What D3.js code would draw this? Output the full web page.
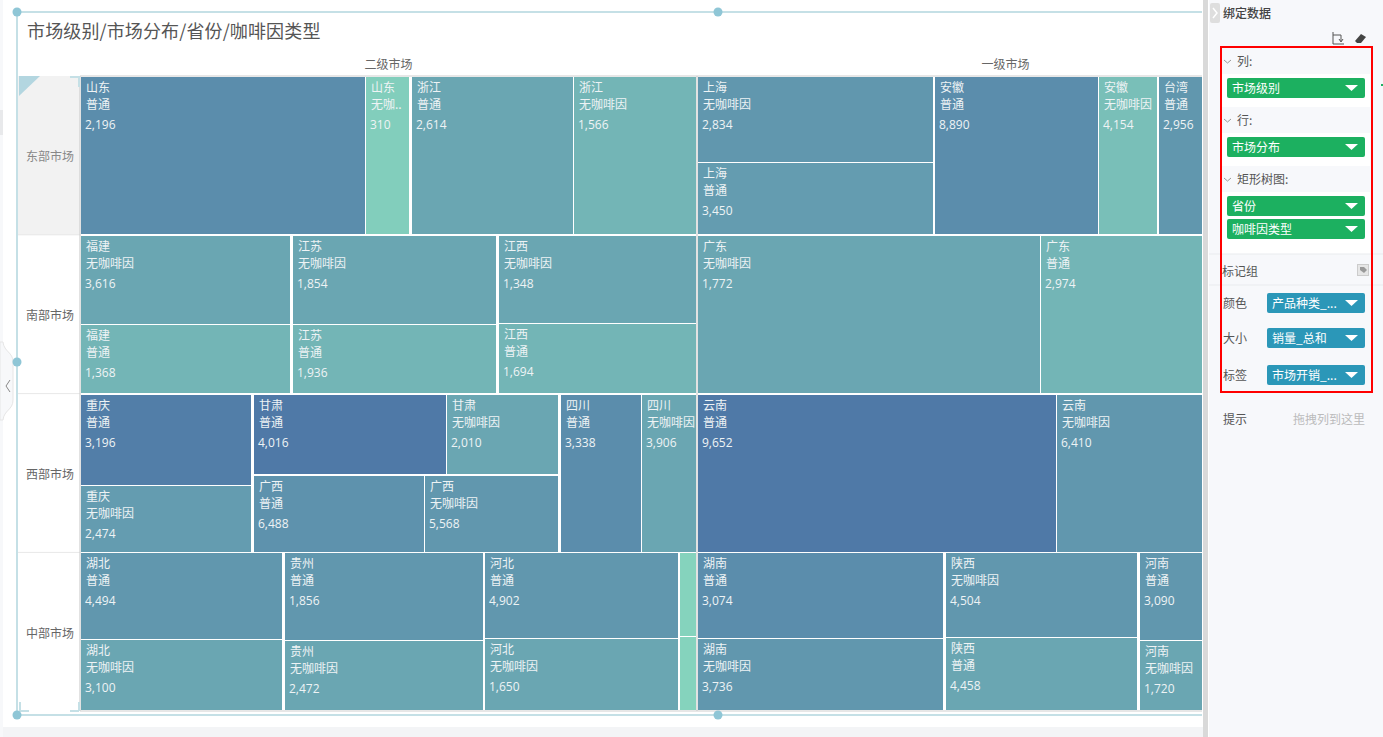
<!DOCTYPE html>
<html>
<head>
<meta charset="utf-8">
<title>矩形树图</title>
<script src="https://cdn.jsdelivr.net/npm/d3@7/dist/d3.min.js"></script>
<style>
  html, body { margin: 0; padding: 0; background: #fff; overflow: hidden; }
  svg { display: block; font-family: "Noto Sans CJK SC", "Noto Sans", sans-serif; }
</style>
</head>
<body>
<svg id="chart" width="1383" height="737"></svg>
<script>
// chart data, one position per cell in all the cell* arrays
const columnNames = ["二级市场", "一级市场"];
const rowNames = ["东部市场", "南部市场", "西部市场", "中部市场"];
const NORMAL = "普通";
const DECAF = "无咖啡因";

const cellColumn = [
  0, 0, 0, 0,
  0, 0, 0, 0, 0, 0,
  0, 0, 0, 0, 0, 0, 0, 0,
  0, 0, 0, 0, 0, 0, 0, 0,
  1, 1, 1, 1, 1,
  1, 1,
  1, 1,
  1, 1, 1, 1, 1, 1,
];
const cellRow = [
  "东部市场", "东部市场", "东部市场", "东部市场",
  "南部市场", "南部市场", "南部市场", "南部市场", "南部市场", "南部市场",
  "西部市场", "西部市场", "西部市场", "西部市场", "西部市场", "西部市场", "西部市场", "西部市场",
  "中部市场", "中部市场", "中部市场", "中部市场", "中部市场", "中部市场", "中部市场", "中部市场",
  "东部市场", "东部市场", "东部市场", "东部市场", "东部市场",
  "南部市场", "南部市场",
  "西部市场", "西部市场",
  "中部市场", "中部市场", "中部市场", "中部市场", "中部市场", "中部市场",
];
const cellProvince = [
  "山东", "山东", "浙江", "浙江",
  "福建", "福建", "江苏", "江苏", "江西", "江西",
  "重庆", "重庆", "甘肃", "甘肃", "广西", "广西", "四川", "四川",
  "湖北", "湖北", "贵州", "贵州", "河北", "河北", "", "",
  "上海", "上海", "安徽", "安徽", "台湾",
  "广东", "广东",
  "云南", "云南",
  "湖南", "湖南", "陕西", "陕西", "河南", "河南",
];
const cellType = [
  NORMAL, DECAF, NORMAL, DECAF,
  DECAF, NORMAL, DECAF, NORMAL, DECAF, NORMAL,
  NORMAL, DECAF, NORMAL, DECAF, NORMAL, DECAF, NORMAL, DECAF,
  NORMAL, DECAF, NORMAL, DECAF, NORMAL, DECAF, NORMAL, DECAF,
  DECAF, NORMAL, NORMAL, DECAF, NORMAL,
  DECAF, NORMAL,
  NORMAL, DECAF,
  NORMAL, DECAF, DECAF, NORMAL, NORMAL, DECAF,
];
// 市场开销: the number printed in each cell
const cellLabel = [
  2196, 310, 2614, 1566,
  3616, 1368, 1854, 1936, 1348, 1694,
  3196, 2474, 4016, 2010, 6488, 5568, 3338, 3906,
  4494, 3100, 1856, 2472, 4902, 1650, null, null,
  2834, 3450, 8890, 4154, 2956,
  1772, 2974,
  9652, 6410,
  3074, 3736, 4504, 4458, 3090, 1720,
];
// 销量: not printed, estimated from the area of each cell
const cellSales = [
  444, 69, 253, 192,
  185, 141, 180, 137, 172, 136,
  152, 110, 150, 87, 128, 100, 125, 84,
  172, 140, 171, 136, 163, 136, 15, 13,
  200, 167, 256, 91, 242,
  534, 424,
  558, 399,
  208, 174, 161, 138, 151, 120,
];
// 产品种类: drives the colour, estimated from the fill
const cellKinds = [
  15, 2, 10, 7,
  10, 7, 10, 7, 10, 7,
  18, 12, 19, 10, 14, 13, 15, 10,
  13, 10, 13, 10, 13, 10, 1, 1,
  13, 12, 15, 5, 13,
  10, 7,
  19, 13,
  15, 13, 13, 10, 13, 10,
];

// layout choices of the treemap
const stackedProvinces = new Set(["福建", "江苏", "江西", "重庆", "上海", "湖北", "贵州", "河北", "", "湖南", "陕西", "河南"]);
const pairedProvinces = new Map([["甘肃", "甘肃+广西"], ["广西", "甘肃+广西"]]);

const svg = d3.select("#chart");
const plotRight = 1202; // the first tier runs on past the visible area

const x = d3.scaleBand().domain(d3.range(columnNames.length)).range([81, 1313]).paddingInner(0.0032);
const y = d3.scaleBand().domain(rowNames).range([77, 710]).paddingInner(0.014);
const color = d3.scaleLinear().domain([1, 19]).range(["#85d3bd", "#4f79a7"]).interpolate(d3.interpolateRgb);

// page background and left gutter
svg.append("rect").attr("x", 0).attr("y", 727).attr("width", 1203).attr("height", 10).attr("fill", "#f3f4f6");
svg.append("rect").attr("x", 0).attr("y", 0).attr("width", 3).attr("height", 737).attr("fill", "#f7f8fa");
svg.append("rect").attr("x", 0).attr("y", 110).attr("width", 3).attr("height", 25).attr("fill", "#e8e9eb");
svg.append("path")
  .attr("d", "M3,342 C4,352 13,352 13,362 L13,400 C13,410 4,410 3,420 L0,420 L0,342 Z")
  .attr("fill", "#f7f8fa").attr("stroke", "#e6e6e6");
svg.append("path").attr("d", "M10,380 L6,386 L10,392").attr("fill", "none").attr("stroke", "#888").attr("stroke-width", 1);

// title
svg.append("text").attr("x", 27).attr("y", 38).attr("font-size", 18).attr("letter-spacing", 0.13).attr("fill", "#555").text("市场级别/市场分布/省份/咖啡因类型");

// column headers
svg.selectAll(".col-header")
  .data(columnNames)
  .join("text")
  .attr("class", "col-header")
  .attr("x", (d, i) => x(i) + x.bandwidth() / 2)
  .attr("y", 69)
  .attr("text-anchor", "middle")
  .attr("font-size", 12)
  .attr("fill", "#666")
  .text((d) => d);

// row headers
svg.append("rect").attr("x", 18).attr("y", 76).attr("width", 62).attr("height", 159).attr("fill", "#f2f2f2");
svg.selectAll(".row-header")
  .data(rowNames)
  .join("text")
  .attr("class", "row-header")
  .attr("x", 50)
  .attr("y", (d) => y(d) + y.bandwidth() / 2 + 6)
  .attr("text-anchor", "middle")
  .attr("font-size", 12)
  .attr("fill", (d, i) => (i === 0 ? "#888" : "#666"))
  .text((d) => d);
svg.selectAll(".row-rule")
  .data(rowNames.slice(1))
  .join("line")
  .attr("class", "row-rule")
  .attr("x1", 18)
  .attr("x2", 80)
  .attr("y1", (d) => y(d) - 1)
  .attr("y2", (d) => y(d) - 1)
  .attr("stroke", "#e8e8e8");

// clipped plot
svg.append("clipPath").attr("id", "plot-clip").append("rect").attr("x", 80).attr("y", 70).attr("width", plotRight - 80).attr("height", 650);
const plot = svg.append("g").attr("clip-path", "url(#plot-clip)");

function tile(node, x0, y0, x1, y1) {
  const dice = node.depth === 0 || (node.depth === 2 && !stackedProvinces.has(node.data[0]));
  (dice ? d3.treemapDice : d3.treemapSlice)(node, x0, y0, x1, y1);
}

function cellChildren(d) {
  if (typeof d === "number") return null;
  const v = d instanceof Map ? d : d[1];
  return [...v];
}

function innerGap(node) {
  return node.depth === 2 ? 1 : 2.5;
}

const cellIds = d3.range(cellSales.length);

columnNames.forEach((columnName, c) => {
  rowNames.forEach((rowName) => {
    const ids = cellIds.filter((i) => cellColumn[i] === c && cellRow[i] === rowName);
    const grouped = d3.group(
      ids,
      (i) => pairedProvinces.get(cellProvince[i]) || cellProvince[i],
      (i) => cellProvince[i]
    );
    const root = d3.hierarchy(grouped, cellChildren).sum((d) => (typeof d === "number" ? cellSales[d] : 0));
    d3.treemap().tile(tile).size([x.bandwidth(), y.bandwidth()]).paddingInner(innerGap).round(true)(root);

    const panel = plot.append("g").attr("transform", `translate(${Math.round(x(c))},${Math.round(y(rowName))})`);
    const cell = panel.selectAll("g").data(root.leaves()).join("g").attr("transform", (d) => `translate(${d.x0},${d.y0})`);

    cell.append("rect")
      .attr("width", (d) => d.x1 - d.x0)
      .attr("height", (d) => d.y1 - d.y0)
      .attr("fill", (d) => color(cellKinds[d.data]));

    // labels are dropped in slivers and shortened when they do not fit
    const labelled = cell.filter((d) => d.x1 - d.x0 >= 30 && cellLabel[d.data] !== null);
    const fit = (text, w) => {
      const max = Math.floor((w - 6) / 12);
      return text.length > max ? text.slice(0, max - 1) + ".." : text;
    };
    labelled.append("text")
      .attr("x", 5).attr("y", 15).attr("font-size", 12).attr("fill", "#eef3f5")
      .text((d) => cellProvince[d.data]);
    labelled.append("text")
      .attr("x", 5).attr("y", 32).attr("font-size", 12).attr("fill", "#eef3f5")
      .text((d) => fit(cellType[d.data], d.x1 - d.x0));
    labelled.append("text")
      .attr("x", 4).attr("y", 52).attr("font-size", 12).attr("fill", "#eef3f5")
      .style("font-family", "'Open Sans', sans-serif")
      .text((d) => d3.format(",")(cellLabel[d.data]));
  });
});

// grid rules round the panels
const gridRules = [
  [80, 76, plotRight, 76],
  [80, 711, plotRight, 711],
  [80, 76, 80, 711],
  [697, 76, 697, 711],
];
svg.selectAll(".grid-rule")
  .data(gridRules)
  .join("line")
  .attr("class", "grid-rule")
  .attr("x1", (d) => d[0]).attr("y1", (d) => d[1]).attr("x2", (d) => d[2]).attr("y2", (d) => d[3])
  .attr("stroke", "#cfcfcf").attr("stroke-width", 1.2);

// selection frame of the component
const frame = "#c5e0e6";
const frameLines = [
  [17, 12, plotRight, 12],
  [17, 12, 17, 715],
  [17, 715, plotRight, 715],
  [19, 77, 29, 77],
  [70, 77, 80, 77],
  [79, 77, 79, 87],
  [20, 702, 20, 712],
  [20, 711, 29, 711],
  [70, 711, 79, 711],
  [79, 702, 79, 711],
];
svg.selectAll(".frame-line")
  .data(frameLines)
  .join("line")
  .attr("class", "frame-line")
  .attr("x1", (d) => d[0]).attr("y1", (d) => d[1]).attr("x2", (d) => d[2]).attr("y2", (d) => d[3])
  .attr("stroke", frame).attr("stroke-width", 2);
svg.append("path").attr("d", "M19,76 H40 L19,96 Z").attr("fill", "#b3d6e0");
svg.selectAll(".handle")
  .data([[17, 12], [718, 12], [17, 362], [17, 715], [718, 715]])
  .join("circle")
  .attr("class", "handle")
  .attr("cx", (d) => d[0]).attr("cy", (d) => d[1]).attr("r", 4.5)
  .attr("fill", "#8fc6d6");

// right side panel
svg.append("rect").attr("x", 1203).attr("y", 0).attr("width", 5).attr("height", 737).attr("fill", "#d9d9d9");
svg.append("rect").attr("x", 1209).attr("y", 0).attr("width", 174).attr("height", 737).attr("fill", "#f7f8fb");
svg.append("rect").attr("x", 1210).attr("y", 3).attr("width", 10).attr("height", 20).attr("rx", 2).attr("fill", "#dedede");
svg.append("path").attr("d", "M1213,8 L1217,13 L1213,18").attr("fill", "none").attr("stroke", "#fff").attr("stroke-width", 1.5);
svg.append("text").attr("x", 1223).attr("y", 18).attr("font-size", 12).attr("font-weight", 500).attr("fill", "#444").text("绑定数据");
svg.append("path").attr("d", "M1333,32 V44 H1344 M1333,35 H1341 V41 M1339,39 L1341,42 L1343,39").attr("fill", "none").attr("stroke", "#555");
svg.append("path").attr("d", "M1355,41 L1361,34 L1366,37 L1361,43 H1357 Z").attr("fill", "#444");

// white wells behind the green pills
svg.selectAll(".well")
  .data([[74, 33], [133, 33], [192, 62]])
  .join("rect")
  .attr("class", "well")
  .attr("x", 1222).attr("y", (d) => d[0]).attr("width", 148).attr("height", (d) => d[1]).attr("fill", "#fff");
svg.selectAll(".sep")
  .data([254, 285])
  .join("line")
  .attr("class", "sep")
  .attr("x1", 1209).attr("x2", 1383).attr("y1", (d) => d).attr("y2", (d) => d).attr("stroke", "#e9ebee");

const shelfNames = ["列:", "行:", "矩形树图:"];
const shelfTextY = [66, 125, 184];
svg.selectAll(".shelf")
  .data(shelfNames)
  .join("text")
  .attr("class", "shelf")
  .attr("x", 1237).attr("y", (d, i) => shelfTextY[i]).attr("font-size", 12).attr("fill", "#555")
  .text((d) => d);
svg.selectAll(".shelf-mark")
  .data(shelfTextY)
  .join("path")
  .attr("class", "shelf-mark")
  .attr("d", (d) => `M1224,${d - 6} L1227.5,${d - 3} L1231,${d - 6}`)
  .attr("fill", "none").attr("stroke", "#999");

const greenFields = ["市场级别", "市场分布", "省份", "咖啡因类型"];
const greenFieldY = [78, 137, 196, 219];
const blueFields = ["产品种类_...", "销量_总和", "市场开销_..."];
const blueFieldY = [293, 328, 365];
const blueFieldNames = ["颜色", "大小", "标签"];

function drawPills(names, tops, left, width, fill) {
  const pill = svg.append("g").selectAll("g").data(names).join("g");
  pill.append("rect")
    .attr("x", left).attr("y", (d, i) => tops[i]).attr("width", width).attr("height", 20).attr("rx", 2).attr("fill", fill);
  pill.append("text")
    .attr("x", left + 5).attr("y", (d, i) => tops[i] + 15).attr("font-size", 12).attr("fill", "#fff").text((d) => d);
  pill.append("path")
    .attr("d", (d, i) => `M1345,${tops[i] + 7} H1358 L1351.5,${tops[i] + 13} Z`).attr("fill", "#fff");
}
drawPills(greenFields, greenFieldY, 1227, 138, "#1cb060");
drawPills(blueFields, blueFieldY, 1267, 98, "#2b97b8");

svg.append("text").attr("x", 1222).attr("y", 276).attr("font-size", 12).attr("fill", "#555").text("标记组");
svg.append("rect").attr("x", 1357.5).attr("y", 264.5).attr("width", 11).attr("height", 11).attr("fill", "#e6e6e6").attr("stroke", "#ccc");
svg.append("path").attr("d", "M1360,267 H1364 L1367,270 L1364,273 L1360,270 Z").attr("fill", "#999");
svg.selectAll(".mark-name")
  .data(blueFieldNames)
  .join("text")
  .attr("class", "mark-name")
  .attr("x", 1223).attr("y", (d, i) => blueFieldY[i] + 15).attr("font-size", 12).attr("fill", "#555")
  .text((d) => d);
svg.append("text").attr("x", 1223).attr("y", 424).attr("font-size", 12).attr("fill", "#555").text("提示");
svg.append("text").attr("x", 1365).attr("y", 424).attr("text-anchor", "end").attr("font-size", 12).attr("fill", "#bbb").text("拖拽列到这里");

// red highlight box
svg.append("rect").attr("x", 1221).attr("y", 47).attr("width", 151).attr("height", 345).attr("fill", "none").attr("stroke", "#f00").attr("stroke-width", 2);
svg.append("rect").attr("x", 1381).attr("y", 84).attr("width", 2).attr("height", 2).attr("fill", "#1cb060");
</script>
</body>
</html>
